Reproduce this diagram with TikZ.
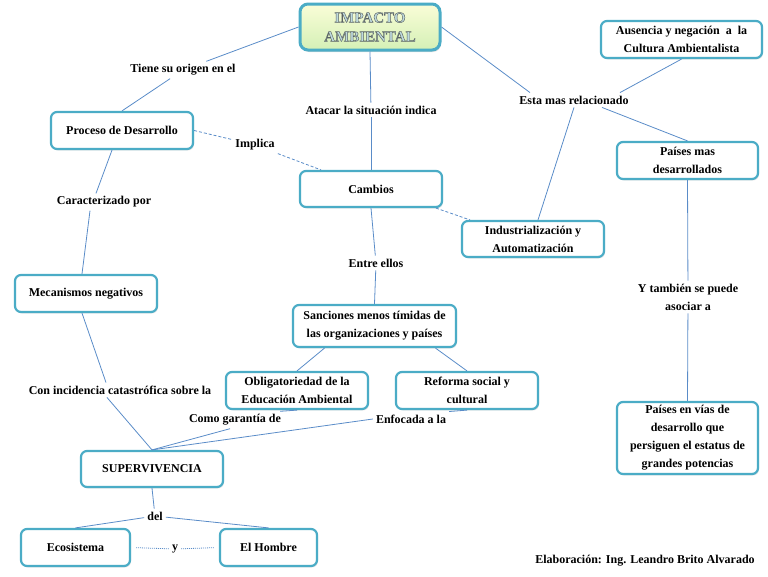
\documentclass[tikz,border=0pt]{standalone}
\usepackage{fontspec}
\setmainfont{Liberation Serif}
\usetikzlibrary{shadows}
\definecolor{boxc}{RGB}{75,172,198}
\definecolor{linec}{RGB}{90,140,200}
\definecolor{titletxt}{RGB}{190,218,222}
\tikzset{
  cbox/.style={draw=boxc, line width=2.2pt, rounded corners=6pt, fill=white, align=center,
    font=\bfseries\fontsize{12}{18}\selectfont, inner sep=2pt,
    drop shadow={opacity=0.18, shadow xshift=1pt, shadow yshift=-1.5pt}},
  lab/.style={font=\bfseries\fontsize{12}{18}\selectfont, align=center, inner sep=3pt},
  conn/.style={draw=linec, line width=0.8pt},
  dconn/.style={conn, dash pattern=on 3pt off 2pt},
  dotconn/.style={conn, dash pattern=on 1pt off 1pt}
}
\newcommand{\outlinetxt}[1]{\special{pdf:literal direct 2 Tr 0.45 w 0.35 0.38 0.38 RG}#1\special{pdf:literal direct 0 Tr}}
\begin{document}
\begin{tikzpicture}[x=1pt,y=-1pt]
\useasboundingbox (0,0) rectangle (768,576);
% title
\node[draw=boxc, line width=3pt, rounded corners=8pt, minimum width=140pt, minimum height=46pt,
  top color={rgb,255:red,250;green,253;blue,215}, bottom color={rgb,255:red,212;green,240;blue,182},
  align=center, text=titletxt, font=\bfseries\fontsize{15}{19}\selectfont,
  drop shadow={opacity=0.25, shadow xshift=1pt, shadow yshift=-2pt}] (title) at (370,27) {\outlinetxt{IMPACTO}\\\outlinetxt{AMBIENTAL}};
% boxes
\node[cbox, minimum width=142pt, minimum height=37pt] (proc) at (122,130.5) {Proceso de Desarrollo};
\node[cbox, minimum width=142pt, minimum height=36pt] (camb) at (371,189) {Cambios};
\node[cbox, minimum width=142pt, minimum height=36pt] (ind) at (533,239) {Industrialización y\\Automatización};
\node[cbox, minimum width=161pt, minimum height=37pt] (aus) at (681.5,39.5) {Ausencia y negación\ \ a\ \ la\\Cultura Ambientalista};
\node[cbox, minimum width=141pt, minimum height=37pt] (pmas) at (687.5,160.5) {Países mas\\desarrollados};
\node[cbox, minimum width=142pt, minimum height=37pt] (mec) at (86,293.5) {Mecanismos negativos};
\node[cbox, minimum width=163pt, minimum height=42pt] (sanc) at (374.5,326) {Sanciones menos tímidas de\\las organizaciones y países};
\node[cbox, minimum width=142pt, minimum height=37pt] (obl) at (297,390.5) {Obligatoriedad de la\\Educación Ambiental};
\node[cbox, minimum width=142pt, minimum height=37pt] (ref) at (467,390.5) {Reforma social y\\cultural};
\node[cbox, minimum width=141pt, minimum height=72pt] (pvias) at (687.5,438) {Países en vías de\\desarrollo que\\persiguen el estatus de\\grandes potencias};
\node[cbox, minimum width=142pt, minimum height=36pt] (sup) at (152,469) {SUPERVIVENCIA};
\node[cbox, minimum width=109pt, minimum height=37pt] (eco) at (75.5,547.5) {Ecosistema};
\node[cbox, minimum width=97pt, minimum height=37pt] (hom) at (268.5,547.5) {El Hombre};
% labels
\node[lab] (l1) at (183,70) {Tiene su origen en el};
\node[lab] (l2) at (371,110) {Atacar la situación indica};
\node[lab] (l3) at (574,100) {Esta mas relacionado};
\node[lab] (l4) at (255,145) {Implica};
\node[lab] (l5) at (104,202) {Caracterizado por};
\node[lab] (l6) at (376,263) {Entre ellos};
\node[lab] (l7) at (688,297) {Y también se puede\\asociar a};
\node[lab] (l8) at (120,390) {Con incidencia catastrófica sobre la};
\node[lab] (l9) at (235,420) {Como garantía de};
\node[lab] (l10) at (411,419) {Enfocada a la};
\node[lab] (l11) at (155,516) {del};
\node[lab] (l12) at (175,549) {y};
\node[lab] (credit) at (645,561) {Elaboración: Ing. Leandro Brito Alvarado};
% connectors
\draw[conn] (title.west) -- (l1);
\draw[conn] (l1) -- (proc.north);
\draw[conn] (title.south) -- (l2);
\draw[conn] (l2) -- (camb.north);
\draw[conn] (title.east) -- ([xshift=-44pt]l3.north);
\draw[conn] ([xshift=46pt]l3.north) -- (aus.south);
\draw[conn] ([xshift=28pt]l3.south) -- (pmas.north);
\draw[conn] (l3.south) -- ([xshift=5pt]ind.north);
\draw[dconn] (proc.east) -- (l4);
\draw[dconn] (l4) -- ([xshift=-50pt]camb.north);
\draw[dconn] ([xshift=65pt]camb.south) -- ([xshift=-63pt]ind.north);
\draw[conn] ([xshift=-10pt]proc.south) -- ([xshift=-8pt]l5.north);
\draw[conn] ([xshift=-14pt]l5.south) -- ([xshift=-4pt]mec.north);
\draw[conn] (camb.south) -- (l6);
\draw[conn] (l6) -- (sanc.north);
\draw[conn] ([xshift=-50pt]sanc.south) -- (obl.north);
\draw[conn] ([xshift=61pt]sanc.south) -- (ref.north);
\draw[conn] (pmas.south) -- (l7);
\draw[conn] (l7) -- (pvias.north);
\draw[conn] ([xshift=-4pt]mec.south) -- ([xshift=-14pt]l8.north);
\draw[conn] ([xshift=-13pt]l8.south) -- (sup.north);
\draw[conn] (obl.south) -- ([xshift=-4pt]l9.north east);
\draw[conn] ([xshift=-5pt]l9.south) -- (sup.north);
\draw[conn] (ref.south) -- (l10.north east);
\draw[conn] (l10.west) -- (sup.north);
\draw[conn] (sup.south) -- (l11);
\draw[conn] (l11) -- (eco.north);
\draw[conn] (l11) -- (hom.north);
\draw[dotconn, shorten <=5pt] (eco.east) -- (l12);
\draw[dotconn, shorten >=5pt] (l12) -- (hom.west);
\end{tikzpicture}
\end{document}
